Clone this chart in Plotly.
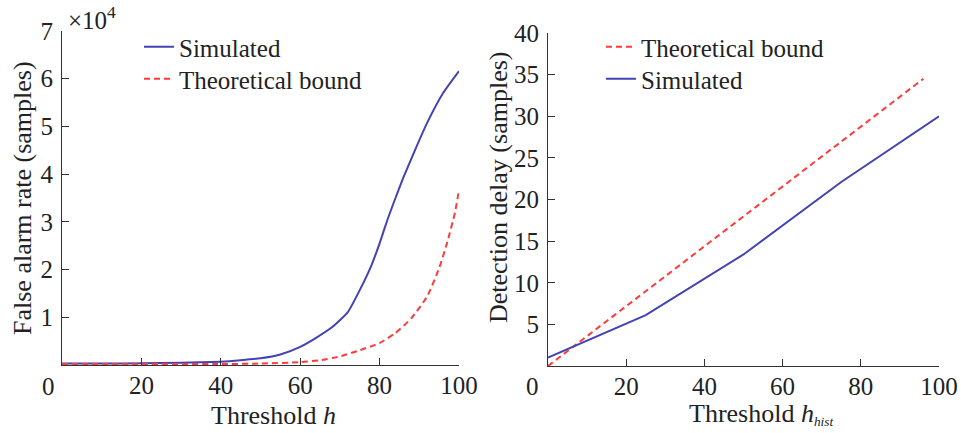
import plotly.graph_objects as go

# Left panel: false alarm rate (x10^4 samples) vs threshold h
h_sim = [0, 10, 20, 30, 40, 45, 50, 55, 60, 64, 68, 72, 75, 78, 80, 82, 84, 86, 89, 92, 96, 100]
far_sim = [0.03, 0.03, 0.035, 0.045, 0.07, 0.1, 0.14, 0.22, 0.38, 0.57, 0.79, 1.11, 1.57, 2.10, 2.55, 3.05, 3.5, 3.93, 4.52, 5.08, 5.70, 6.16]
h_th = [0, 20, 40, 50, 60, 65, 70, 75, 80, 84, 88, 92, 95, 97, 99, 100]
far_th = [0.02, 0.02, 0.02, 0.03, 0.06, 0.10, 0.18, 0.31, 0.46, 0.67, 0.98, 1.44, 2.03, 2.56, 3.2, 3.67]

# Right panel: detection delay (samples) vs threshold h_hist
hh_th = [0, 25, 50, 75, 96]
dd_th = [0.0, 9.0, 18.0, 27.0, 34.5]
hh_sim = [0, 25, 50, 75, 100]
dd_sim = [1.0, 6.1, 13.4, 22.1, 30.0]

x_ticks = [20, 40, 60, 80, 100]
left_y_ticks = [1, 2, 3, 4, 5, 6, 7]
right_y_ticks = [5, 10, 15, 20, 25, 30, 35, 40]

BLUE = "#4343b5"
RED = "#ff3a3a"
AX = "#333333"
TXT = "#222222"
FONT = "Liberation Serif"
FS = 25
TFS = 26

fig = go.Figure()
fig.add_trace(go.Scatter(x=h_sim, y=far_sim, mode="lines", name="Simulated",
                         line=dict(color=BLUE, width=2, shape="spline", smoothing=0.5),
                         xaxis="x", yaxis="y", legend="legend"))
fig.add_trace(go.Scatter(x=h_th, y=far_th, mode="lines", name="Theoretical bound",
                         line=dict(color=RED, width=2, dash="6px,4px", shape="spline", smoothing=0.5),
                         xaxis="x", yaxis="y", legend="legend2"))
fig.add_trace(go.Scatter(x=hh_th, y=dd_th, mode="lines", name="Theoretical bound",
                         line=dict(color=RED, width=2, dash="6px,4px"),
                         xaxis="x2", yaxis="y2", legend="legend3"))
fig.add_trace(go.Scatter(x=hh_sim, y=dd_sim, mode="lines", name="Simulated",
                         line=dict(color=BLUE, width=2),
                         xaxis="x2", yaxis="y2", legend="legend4"))

axis_common = dict(showline=True, linecolor=AX, linewidth=1.2, ticks="inside",
                   ticklen=7, tickcolor=AX, tickwidth=1.2, showgrid=False, zeroline=False,
                   automargin=False,
                   tickfont=dict(family=FONT, size=FS, color=TXT))
xcommon = dict(ticklabelstandoff=-2, **axis_common)
ycommon = dict(ticklabelstandoff=3, **axis_common)


def leg(xpx, ypx):
    return dict(x=xpx / 961, y=1 - ypx / 433, xanchor="left", yanchor="middle",
                bgcolor="rgba(0,0,0,0)", borderwidth=0,
                font=dict(family=FONT, size=FS, color=TXT), itemwidth=30)


fig.update_layout(
    width=961, height=433,
    margin=dict(l=0, r=0, t=0, b=0, autoexpand=False),
    paper_bgcolor="white", plot_bgcolor="white",
    font=dict(family=FONT, size=FS, color=TXT),
    xaxis=dict(domain=[62/961, 459/961], range=[0, 100], tickvals=x_ticks,
               anchor="y", **xcommon),
    yaxis=dict(domain=[68/433, 402/433], range=[0, 7], tickvals=left_y_ticks,
               anchor="x", **ycommon),
    xaxis2=dict(domain=[548/961, 939/961], range=[0, 100], tickvals=x_ticks,
                anchor="y2", **xcommon),
    yaxis2=dict(domain=[67/433, 400/433], range=[0, 40], tickvals=right_y_ticks,
                anchor="x2", **ycommon),
    legend=leg(139, 47),
    legend2=leg(139, 79),
    legend3=leg(601, 47),
    legend4=leg(601, 79),
    showlegend=True,
)

ann = [
    dict(text="0", x=48/961, y=1 - 386/433, size=FS),
    dict(text="0", x=532/961, y=1 - 386/433, size=FS),
    dict(text="Threshold <i>h</i>", x=273/961, y=1 - 415/433, size=TFS),
    dict(text="Threshold <i>h</i><span style='font-size:19px'><sub><i>hist</i></sub></span>",
         x=761/961, y=1 - 414/433, size=TFS),
    dict(text="False alarm rate (samples)", x=22/961, y=1 - 198/433, textangle=-90, size=TFS),
    dict(text="Detection delay (samples)", x=498/961, y=1 - 187/433, textangle=-90, size=TFS),
    dict(text="×10<sup>4</sup>", x=92/961, y=1 - 18/433, size=FS),
]
for a in ann:
    size = a.pop("size")
    fig.add_annotation(xref="paper", yref="paper", showarrow=False,
                       xanchor="center", yanchor="middle",
                       font=dict(family=FONT, size=size, color=TXT), **a)

fig.write_html("out.html", config={"displayModeBar": False},
               post_script="document.body.style.margin='0';")
